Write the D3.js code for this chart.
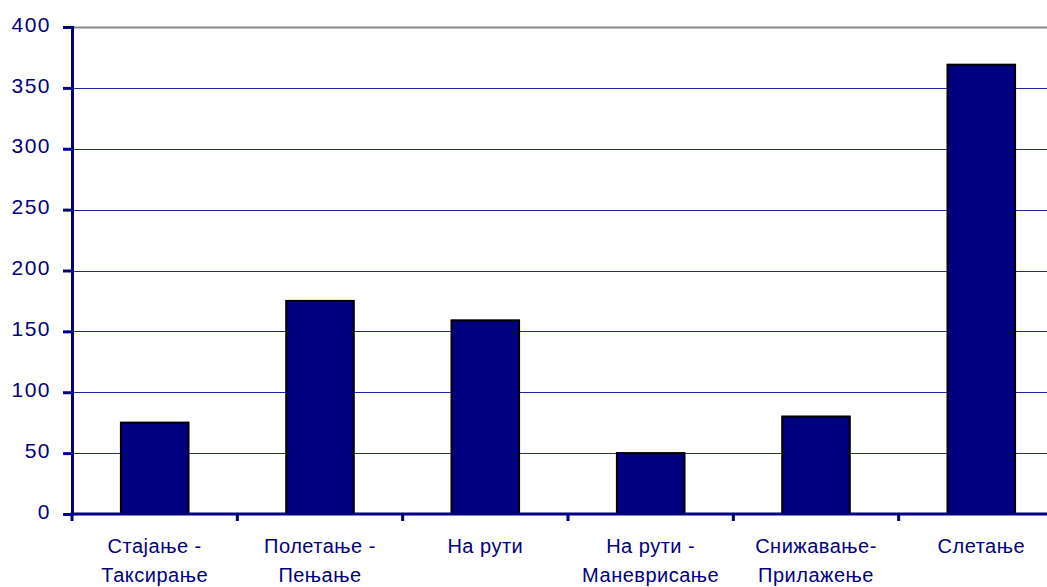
<!DOCTYPE html>
<html>
<head>
<meta charset="utf-8">
<script src="https://cdn.jsdelivr.net/npm/d3@7"></script>
<style>
  body { margin: 0; background: #fff; }
  text { font-family: "Liberation Sans", Arial, sans-serif; fill: #000080; }
</style>
</head>
<body>
<div class="display"></div>
<script>
// Bar chart of occurrences by flight phase

const WIDTH = 1047;
const HEIGHT = 587;
const LEFT = 72, RIGHT = 1064, TOP = 27, BOTTOM = 514;

const categories = [
  ['Стајање -', 'Таксирање'],
  ['Полетање -', 'Пењање'],
  ['На рути'],
  ['На рути -', 'Маневрисање'],
  ['Снижавање-', 'Прилажење'],
  ['Слетање']
];
const values = [75, 175, 159, 50, 80, 369];
const yTicks = [0, 50, 100, 150, 200, 250, 300, 350, 400];

const svg = d3.select('.display')
  .append('svg')
  .attr('width', WIDTH)
  .attr('height', HEIGHT);

const keys = categories.map((d, i) => i);

const x = d3.scaleBand()
  .domain(keys)
  .range([LEFT, RIGHT])
  .paddingInner(0.592)
  .paddingOuter(0.296);

const y = d3.scaleLinear()
  .domain([0, 400])
  .range([BOTTOM, TOP]);

// gridlines
svg.append('g')
  .selectAll('line')
  .data(yTicks.filter(t => t > 0))
  .enter()
  .append('line')
  .attr('x1', LEFT)
  .attr('x2', WIDTH)
  .attr('y1', d => Math.round(y(d)) + 0.5)
  .attr('y2', d => Math.round(y(d)) + 0.5)
  .attr('stroke', d => d == 400 ? '#888' : '#2323a8')
  .attr('stroke-width', d => d == 400 ? 2 : 1.2);

// bars
const bars = svg.append('g');
bars.selectAll('.shadow')
  .data(values)
  .enter()
  .append('rect')
  .attr('class', 'shadow')
  .attr('x', (d, i) => x(i) - 1)
  .attr('y', d => y(d) - 1)
  .attr('width', x.bandwidth() + 2)
  .attr('height', d => BOTTOM - y(d) + 1)
  .attr('fill', '#999');
bars.selectAll('.bar')
  .data(values)
  .enter()
  .append('rect')
  .attr('class', 'bar')
  .attr('x', (d, i) => x(i))
  .attr('y', d => y(d))
  .attr('width', x.bandwidth())
  .attr('height', d => BOTTOM - y(d))
  .attr('fill', '#000080')
  .attr('stroke', '#000')
  .attr('stroke-width', 2);

// y axis
const yAxis = svg.append('g')
  .attr('transform', `translate(${LEFT},0)`)
  .call(d3.axisLeft(y).tickValues(yTicks).tickSize(9).tickPadding(12));
yAxis.select('.domain').attr('stroke', '#000080').attr('stroke-width', 3);
yAxis.selectAll('.tick line').attr('stroke', '#000080').attr('stroke-width', 3);
yAxis.selectAll('.tick text')
  .style('font-size', '21px')
  .style('letter-spacing', '1.5px')
  .attr('dy', '0.2em')
  .attr('fill', '#000080');

// x axis with ticks at category boundaries
const step = x.step();
const bounds = d3.range(categories.length + 1).map(i => LEFT + i * step);
const xAxis = svg.append('g');
xAxis.append('line')
  .attr('x1', LEFT - 1.5)
  .attr('x2', RIGHT)
  .attr('y1', BOTTOM)
  .attr('y2', BOTTOM)
  .attr('stroke', '#000080')
  .attr('stroke-width', 3);
xAxis.selectAll('.xt')
  .data(bounds)
  .enter()
  .append('line')
  .attr('class', 'xt')
  .attr('x1', d => d)
  .attr('x2', d => d)
  .attr('y1', BOTTOM)
  .attr('y2', BOTTOM + 7)
  .attr('stroke', '#000080')
  .attr('stroke-width', 3);

const labels = xAxis.selectAll('.xl')
  .data(categories)
  .enter()
  .append('text')
  .attr('class', 'xl')
  .attr('text-anchor', 'middle')
  .style('font-size', '20px')
  .style('letter-spacing', '0.5px')
  .attr('transform', (d, i) => `translate(${x(i) + x.bandwidth() / 2},553)`);
labels.selectAll('tspan')
  .data(d => d)
  .enter()
  .append('tspan')
  .attr('x', 0)
  .attr('y', (d, i) => i * 29)
  .text(d => d);
</script>
</body>
</html>
